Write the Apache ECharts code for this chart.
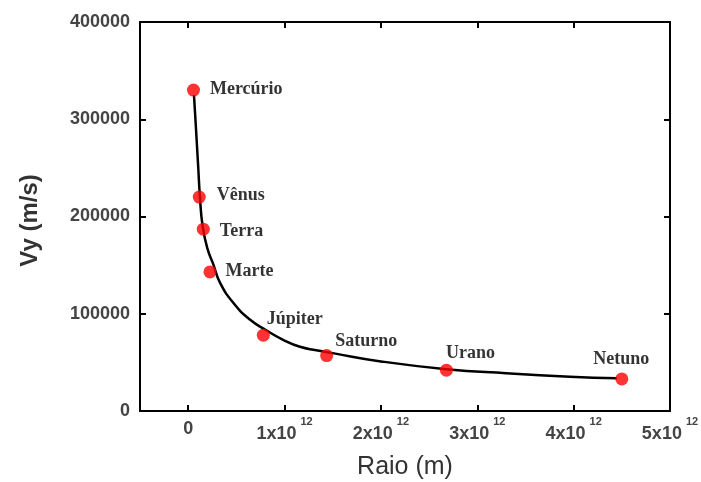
<!DOCTYPE html>
<html>

<head>
	<meta charset="UTF-8" />
	<title>Vy x Raio</title>
	<style>
		html, body { margin: 0; padding: 0; background: #fff; }
		#chart { width: 701px; height: 482px; }
	</style>
	<script type="text/javascript" src="https://cdn.jsdelivr.net/npm/echarts@6/dist/echarts.min.js"></script>
</head>

<body>
	<div id="chart"></div>

	<script>
		// planetas (pontos vermelhos)
		var planets = ["Mercúrio", "Vênus", "Terra", "Marte", "Júpiter", "Saturno", "Urano", "Netuno"];
		var radius = [5.5e10, 1.15e11, 1.57e11, 2.26e11, 7.8e11, 1.437e12, 2.68e12, 4.5e12];
		var vy = [330000, 220000, 187000, 143000, 78000, 57000, 42000, 33000];

		// curva ajustada
		var curveX = [0.06e12, 0.08e12, 0.104e12, 0.122e12, 0.15e12, 0.2e12, 0.26e12, 0.33e12, 0.47e12,
			0.64e12, 0.81e12, 0.99e12, 1.16e12, 1.33e12, 1.5e12, 2.0e12, 2.68e12, 3.3e12, 3.96e12, 4.45e12];
		var curveY = [325000, 292000, 251000, 220000, 190000, 167000, 151000, 132000, 111000,
			94000, 83000, 73000, 66000, 62500, 59500, 51000, 43000, 38800, 35300, 33600];

		// ticks
		var xTicks = [0, 1e12, 2e12, 3e12, 4e12, 5e12];
		var xTickText = ["0", "1x10", "2x10", "3x10", "4x10", "5x10"];

		// deslocamento dos rótulos [dx, dy]
		var labelOffsets = [[5, -1], [6, -2], [5, 2], [4, -1], [-8, -16], [-3, -14], [-12, -17], [-40, -20]];

		var chart = echarts.init(document.getElementById("chart"));

		var curveData = curveX.map(function (x, i) { return [x, curveY[i]]; });
		var pointData = radius.map(function (x, i) {
			return {
				name: planets[i],
				value: [x, vy[i]],
				label: { offset: labelOffsets[i] }
			};
		});

		var axisLine = { show: true, onZero: false, lineStyle: { color: "#000", width: 2 } };
		var tickStyle = { show: true, inside: true, length: 6, lineStyle: { color: "#000", width: 2 } };
		var tickFont = { fontFamily: "Liberation Sans", fontSize: 18, fontWeight: "bold", color: "#444" };

		var option = {
			animation: false,
			grid: { left: 140, top: 22, right: 31, bottom: 71, outerBoundsMode: "none", containLabel: false },
			xAxis: [{
				type: "value",
				min: -0.5e12,
				max: 5e12,
				name: "Raio (m)",
				nameLocation: "middle",
				nameGap: 44,
				nameTextStyle: { fontFamily: "Liberation Sans", fontSize: 25, color: "#333" },
				axisLine: axisLine,
				axisTick: Object.assign({ customValues: xTicks }, tickStyle),
				splitLine: { show: false },
				axisLabel: {
					customValues: xTicks,
					margin: 5,
					formatter: function (v) {
						var i = xTicks.indexOf(v);
						if (i === 0) return "{c|0}";
						return "{a|" + xTickText[i] + "}{b|12}";
					},
					rich: {
						a: Object.assign({ verticalAlign: "bottom" }, tickFont),
						b: { fontFamily: "Liberation Sans", fontSize: 11, fontWeight: "bold", color: "#444", verticalAlign: "top", padding: [0, 0, 16, 4] },
						c: Object.assign({ padding: [4, 0, 0, 0] }, tickFont)
					}
				}
			}, {
				type: "value",
				position: "top",
				min: -0.5e12,
				max: 5e12,
				axisLine: axisLine,
				axisTick: Object.assign({ customValues: xTicks }, tickStyle),
				axisLabel: { show: false },
				splitLine: { show: false }
			}],
			yAxis: [{
				type: "value",
				min: 0,
				max: 400000,
				interval: 100000,
				name: "Vy (m/s)",
				nameLocation: "middle",
				nameGap: 98,
				nameRotate: 90,
				nameTextStyle: { fontFamily: "Liberation Sans", fontSize: 24, fontWeight: "bold", color: "#333", padding: [0, 8, 0, 0] },
				axisLine: axisLine,
				axisTick: tickStyle,
				splitLine: { show: false },
				axisLabel: Object.assign({
					margin: 10,
					formatter: function (v) { return String(v); }
				}, tickFont)
			}, {
				type: "value",
				position: "right",
				min: 0,
				max: 400000,
				interval: 100000,
				axisLine: axisLine,
				axisTick: tickStyle,
				axisLabel: { show: false },
				splitLine: { show: false }
			}],
			series: [{
				type: "line",
				data: curveData,
				smooth: true,
				showSymbol: false,
				lineStyle: { color: "#000", width: 2.5 },
				z: 1
			}, {
				type: "scatter",
				data: pointData,
				symbol: "circle",
				symbolSize: 13,
				itemStyle: { color: "#ff0000" },
				label: {
					show: true,
					position: "right",
					distance: 5,
					formatter: "{b}",
					fontFamily: "Liberation Serif",
					fontWeight: "bold",
					fontSize: 18,
					color: "#000"
				},
				z: 2
			}]
		};

		chart.setOption(option);
	</script>
</body>

</html>
